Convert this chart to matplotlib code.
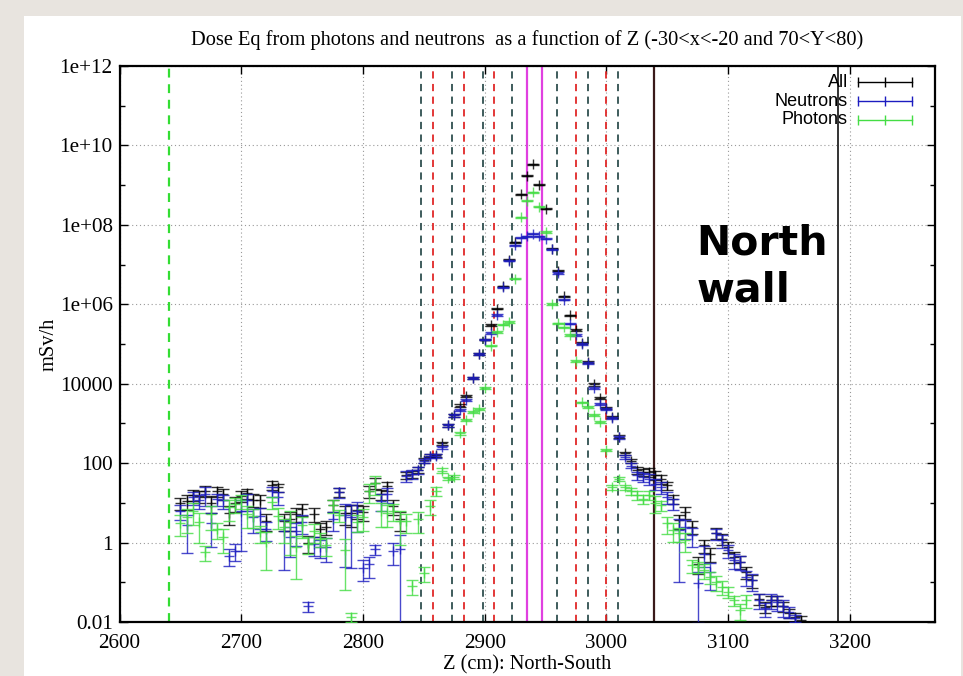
import numpy as np
import matplotlib
matplotlib.use('Agg')
import matplotlib.pyplot as plt
from matplotlib.patches import Rectangle
from matplotlib.ticker import FixedLocator, NullFormatter

nan = np.nan

# bin centres along Z (cm), 5 cm bins
z_cm = np.arange(2650, 3161, 5)

# log10(dose, mSv/h), one value per bin
log_all = [
    1.00, 1.05, 1.20, 1.18, 1.30, 1.00, 1.29, 1.23, 0.75, 1.00,
    1.18, 1.24, 1.08, 1.06, 0.55, 1.46, 1.39, 0.55, 0.60, 0.73,
    0.85, 0.00, 0.73, 0.35, 0.40, 0.95, 1.27, 0.75, 0.75, 0.81,
    0.77, 1.30, 1.50, 1.22, 1.43, 0.92, 0.60, 1.70, 1.73, 1.83,
    2.07, 2.19, 2.20, 2.50, 2.95, 3.20, 3.45, 3.70, 4.15, 4.75,
    5.11, 5.47, 5.89, 6.45, 7.12, 7.56, 8.77, 9.24, 9.52, 9.01,
    8.41, 7.40, 6.85, 6.20, 5.72, 5.35, 5.02, 4.55, 3.98, 3.64,
    3.40, 3.16, 2.67, 2.25, 2.05, 1.82, 1.78, 1.78, 1.70, 1.60,
    1.44, 1.10, 0.56, 0.77, 0.40, -0.53, -0.07, -0.28, 0.25, 0.10,
    -0.10, -0.36, -0.48, -0.74, -0.95, -1.41, -1.62, -1.45, -1.45, -1.60,
    -1.78, -1.87, -1.95]
log_neutrons = [
    0.80, 0.43, 1.14, 1.06, 1.23, 0.50, 1.10, 1.06, -0.33, -0.20,
    0.80, 1.06, 0.64, 0.68, 0.34, 1.29, 1.14, 0.30, 0.15, 0.30,
    0.52, -1.60, -0.03, -0.10, -0.10, 0.60, 1.27, 0.69, 0.65, 0.80,
    -0.63, -0.55, -0.17, 1.05, 1.22, -0.21, -0.15, 1.68, 1.72, 1.82,
    2.06, 2.18, 2.18, 2.40, 2.95, 3.20, 3.34, 3.59, 4.15, 4.75,
    5.11, 5.27, 5.73, 6.43, 7.10, 7.48, 7.67, 7.71, 7.78, 7.71,
    7.65, 7.38, 6.79, 6.12, 5.51, 5.23, 5.00, 4.53, 3.90, 3.49,
    3.37, 3.14, 2.65, 2.15, 1.94, 1.69, 1.65, 1.60, 1.48, 1.40,
    1.15, 0.98, 0.31, 0.39, 0.18, -1.03, -0.28, -0.74, 0.23, 0.06,
    -0.19, -0.44, -0.48, -0.86, -0.95, -1.45, -1.66, -1.45, -1.49, -1.61,
    -1.74, -1.91, nan]
log_photons = [
    0.50, 0.64, 0.80, 0.51, -0.24, 0.72, 0.34, 0.13, 0.89, 0.97,
    1.06, 0.72, 0.68, 0.26, 0.02, 1.02, 0.68, 0.39, 0.52, -0.10,
    0.45, -0.03, 0.30, 0.10, -0.05, 0.94, 0.70, -0.19, -1.87, 0.52,
    0.65, 1.30, 1.50, 0.80, 0.75, 0.80, 0.55, 0.55, -1.09, 0.59,
    -0.76, 0.92, 1.30, 1.81, 1.62, 1.65, 2.75, 3.09, 3.28, 3.37,
    3.90, 4.96, 5.30, 5.49, 5.55, 6.64, 8.19, 8.61, 8.82, 8.45,
    7.82, 6.01, 5.52, 5.42, 5.23, 4.57, 3.53, 3.41, 3.22, 3.03,
    2.34, 1.39, 1.60, 1.40, 1.30, 1.20, 1.10, 1.20, 1.00, 0.94,
    0.48, 0.31, 0.23, 0.06, -0.57, -0.61, -0.69, -0.86, -0.99, -1.11,
    -1.24, -1.45, -1.70, -1.45, nan, nan, nan, nan, nan, nan,
    nan, nan, nan]

# relative error (dy / y) per bin
rel_all = [
    0.35, 0.40, 0.30, 0.35, 0.30, 0.45, 0.30, 0.30, 0.50, 0.40,
    0.30, 0.30, 0.35, 0.35, 0.45, 0.25, 0.25, 0.45, 0.50, 0.40,
    0.35, 0.45, 0.40, 0.40, 0.40, 0.35, 0.25, 0.50, 0.55, 0.40,
    0.40, 0.35, 0.30, 0.30, 0.25, 0.40, 0.50, 0.20, 0.20, 0.15,
    0.12, 0.10, 0.10, 0.10, 0.08, 0.08, 0.08, 0.06, 0.06, 0.05,
    0.05, 0.05, 0.04, 0.04, 0.03, 0.03, 0.03, 0.03, 0.03, 0.03,
    0.03, 0.03, 0.04, 0.04, 0.04, 0.05, 0.05, 0.05, 0.06, 0.06,
    0.06, 0.06, 0.08, 0.10, 0.12, 0.20, 0.20, 0.25, 0.25, 0.25,
    0.25, 0.25, 0.40, 0.35, 0.35, 0.45, 0.35, 0.40, 0.30, 0.30,
    0.30, 0.30, 0.35, 0.35, 0.35, 0.30, 0.30, 0.30, 0.30, 0.30,
    0.25, 0.25, 0.25]
rel_neutrons = [
    0.40, 0.80, 0.35, 0.40, 0.50, 0.75, 0.35, 0.40, 0.45, 0.45,
    0.90, 0.45, 0.60, 0.55, 0.50, 0.30, 0.35, 0.90, 0.70, 0.60,
    0.50, 0.30, 0.50, 0.50, 0.60, 0.50, 0.30, 0.95, 0.95, 0.70,
    0.55, 0.55, 0.30, 0.45, 0.40, 0.55, 1.20, 0.30, 0.25, 0.20,
    0.12, 0.10, 0.10, 0.10, 0.08, 0.08, 0.08, 0.06, 0.06, 0.05,
    0.05, 0.05, 0.04, 0.04, 0.03, 0.03, 0.03, 0.03, 0.03, 0.03,
    0.03, 0.03, 0.04, 0.04, 0.04, 0.05, 0.05, 0.05, 0.06, 0.06,
    0.06, 0.06, 0.08, 0.12, 0.15, 0.25, 0.25, 0.30, 0.30, 0.35,
    0.35, 0.30, 0.95, 0.50, 0.50, 0.90, 0.55, 0.65, 0.30, 0.35,
    0.35, 0.40, 0.40, 0.40, 0.45, 0.40, 0.40, 0.40, 0.40, 0.45,
    0.30, 0.20, nan]
rel_photons = [
    0.55, 0.60, 0.55, 0.70, 0.40, 0.60, 0.45, 0.60, 0.55, 0.40,
    0.40, 0.55, 0.50, 0.45, 0.80, 0.35, 0.55, 0.60, 0.85, 0.85,
    0.55, 0.45, 0.50, 0.40, 0.50, 0.35, 0.35, 0.90, 0.25, 0.45,
    0.55, 0.50, 0.50, 0.60, 0.55, 0.45, 0.75, 0.50, 0.40, 0.55,
    0.40, 0.40, 0.25, 0.15, 0.10, 0.10, 0.08, 0.06, 0.06, 0.06,
    0.05, 0.05, 0.04, 0.04, 0.04, 0.03, 0.03, 0.03, 0.03, 0.03,
    0.03, 0.04, 0.04, 0.04, 0.04, 0.04, 0.05, 0.05, 0.05, 0.06,
    0.06, 0.15, 0.10, 0.15, 0.20, 0.25, 0.25, 0.25, 0.45, 0.30,
    0.45, 0.50, 0.40, 0.50, 0.35, 0.30, 0.40, 0.35, 0.40, 0.40,
    0.30, 0.30, 0.45, 0.35, nan, nan, nan, nan, nan, nan,
    nan, nan, nan]

# geometry markers (cm)
green_lines = [2640.6]
slate_lines = [2847.7, 2872.9, 2898.9, 2922.7, 2959.7, 2984.6, 3009.8]
red_lines = [2857.8, 2883.0, 2907.9, 2974.8, 2999.4]
magenta_lines = [2935.0, 2947.3]
wall_lines = [3039.4, 3190.3]

series = [
    ('All', log_all, rel_all, '#000000'),
    ('Neutrons', log_neutrons, rel_neutrons, '#1c1cc0'),
    ('Photons', log_photons, rel_photons, '#44dd44'),
]

serif = ['Liberation Serif', 'DejaVu Serif']

fig = plt.figure(figsize=(9.63, 6.76), dpi=100, facecolor='#e8e4df')
fig.patches.append(Rectangle((24 / 963, 0), (961 - 24) / 963, (676 - 16) / 676,
                             transform=fig.transFigure, facecolor='white',
                             edgecolor='none', zorder=-10))
ax = fig.add_axes([0.1242, 0.0799, 0.8467, 0.8225])

# vertical reference lines
for x in green_lines:
    ax.axvline(x, color='#33dd33', lw=1.6, ls=(0, (4, 3)), zorder=1)
for x in slate_lines:
    ax.axvline(x, color='#2f4f4f', lw=1.3, ls=(0, (4, 3)), zorder=1)
for x in red_lines:
    ax.axvline(x, color='#e02828', lw=1.3, ls=(0, (4, 3)), zorder=1)
for x in magenta_lines:
    ax.axvline(x, color='#e040e0', lw=1.6, zorder=1)
ax.axvline(wall_lines[0], color='#3a1a1a', lw=1.6, zorder=1)
ax.axvline(wall_lines[1], color='#333333', lw=1.4, zorder=1)

for i, (name, logv, rel, col) in enumerate(series):
    v = 10.0 ** np.array(logv, dtype=float)
    dy = v * np.array(rel, dtype=float)
    ax.errorbar(z_cm, v, yerr=dy, fmt='+', color=col, ecolor=col, ms=7, mew=1.0,
                elinewidth=1.0, capsize=4, capthick=1.0, alpha=0.8, zorder=3 + i)

ax.set_yscale('log', nonpositive='clip')
ax.set_xlim(2600, 3270)
ax.set_ylim(1e-2, 1e12)

ax.set_xticks([2600, 2700, 2800, 2900, 3000, 3100, 3200])
yt = [1e-2, 1, 1e2, 1e4, 1e6, 1e8, 1e10, 1e12]
ax.yaxis.set_major_locator(FixedLocator(yt))
ax.set_yticklabels(['0.01', '1', '100', '10000', '1e+06', '1e+08', '1e+10', '1e+12'])
ax.yaxis.set_minor_locator(FixedLocator([1e-1, 1e1, 1e3, 1e5, 1e7, 1e9, 1e11]))
ax.yaxis.set_minor_formatter(NullFormatter())
ax.tick_params(which='both', direction='in', top=True, right=True, width=1.0)
ax.tick_params(which='major', length=6, labelsize=15.2)
ax.tick_params(axis='x', which='major', pad=9)
ax.tick_params(axis='y', which='major', pad=5)
ax.tick_params(which='minor', length=3.5)
for lab in ax.get_xticklabels() + ax.get_yticklabels():
    lab.set_family(serif)
for s in ax.spines.values():
    s.set_linewidth(1.6)

ax.grid(True, which='major', color='#999999', lw=0.8, ls=(0, (1, 2.5)), zorder=0)
ax.set_axisbelow(True)

ax.set_title('Dose Eq from photons and neutrons  as a function of Z (-30<x<-20 and 70<Y<80)',
             family=serif, fontsize=14.7, pad=15)
ax.set_xlabel('Z (cm): North-South', family=serif, fontsize=14.7, labelpad=1.5)
ax.set_ylabel('mSv/h', family=serif, fontsize=14.7, labelpad=1)

ax.text(3074, 1.05e8, 'North\nwall', family='DejaVu Sans', fontweight='bold',
        fontsize=29.5, ha='left', va='top', linespacing=1.2, zorder=6)

# gnuplot-style key
key_y = [0.971, 0.937, 0.903]
for (name, _, _, col), yk in zip(series, key_y):
    ax.text(0.893, yk, name, transform=ax.transAxes, ha='right', va='center',
            family=['Liberation Sans', 'DejaVu Sans'], fontsize=13, zorder=7)
    ax.plot([0.905, 0.939, 0.972], [yk, yk, yk], transform=ax.transAxes, color=col,
            lw=1.0, marker='|', ms=7, mew=1.0, zorder=7, clip_on=False)

fig.savefig('out.png', dpi=100, facecolor=fig.get_facecolor())
